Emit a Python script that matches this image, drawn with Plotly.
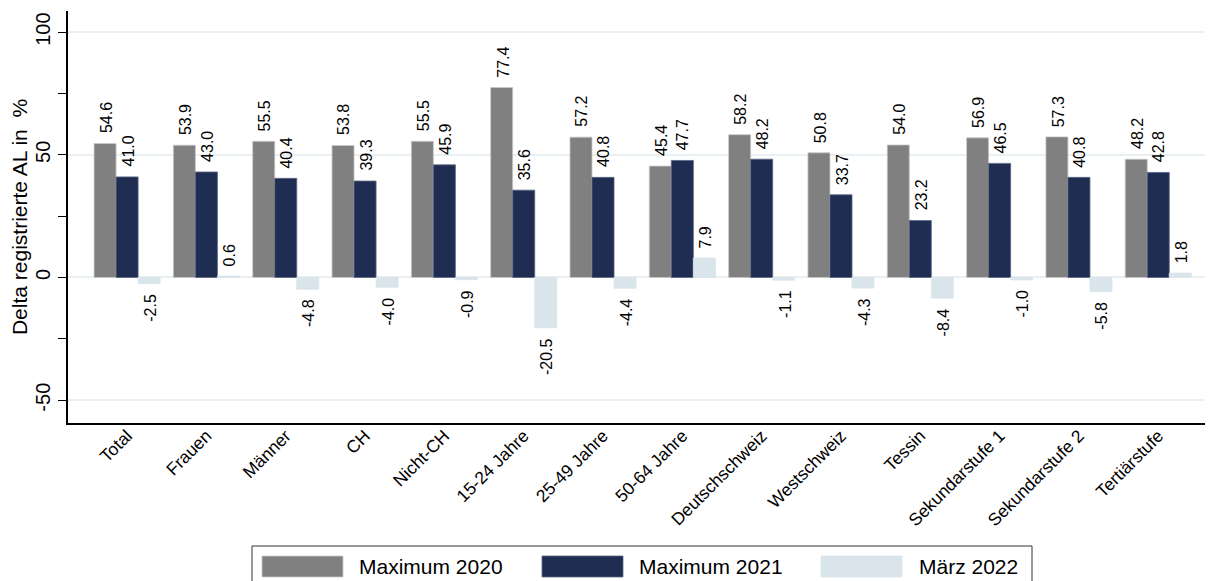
import plotly.graph_objects as go

categories = ["Total", "Frauen", "Männer", "CH", "Nicht-CH", "15-24 Jahre", "25-49 Jahre",
              "50-64 Jahre", "Deutschschweiz", "Westschweiz", "Tessin", "Sekundarstufe 1",
              "Sekundarstufe 2", "Tertiärstufe"]
max_2020 = [54.6, 53.9, 55.5, 53.8, 55.5, 77.4, 57.2, 45.4, 58.2, 50.8, 54.0, 56.9, 57.3, 48.2]
max_2021 = [41.0, 43.0, 40.4, 39.3, 45.9, 35.6, 40.8, 47.7, 48.2, 33.7, 23.2, 46.5, 40.8, 42.8]
maerz_2022 = [-2.5, 0.6, -4.8, -4.0, -0.9, -20.5, -4.4, 7.9, -1.1, -4.3, -8.4, -1.0, -5.8, 1.8]

series_names = ["Maximum 2020", "Maximum 2021", "März 2022"]
series_values = [max_2020, max_2021, maerz_2022]
colors = ["#808080", "#1f2d53", "#d9e5eb"]
edge_colors = ["#c8c8c8", "#5a6580", "#d9e5eb"]

FONT = "Liberation Sans, Arial, sans-serif"
PAGE_OFF = 8                      # default body margin of the html page
W, H = 1213 - PAGE_OFF, 581 - PAGE_OFF
ML, MR, MT, MB = 60, 0, 3, 158
PLOT_W = W - ML - MR
PLOT_H = H - MT - MB

def px_x(p):   # page pixel -> paper coordinate
    return (p - PAGE_OFF - ML) / PLOT_W

def px_y(p):
    return (PAGE_OFF + MT + PLOT_H - p) / PLOT_H

group_width = 1 - 0.167
bar_w = group_width / len(series_names)

fig = go.Figure()
xidx = list(range(len(categories)))
annotations = []
for k, (name, vals, col, ec) in enumerate(zip(series_names, series_values, colors, edge_colors)):
    off = -group_width / 2 + k * bar_w
    fig.add_trace(go.Bar(
        x=xidx, y=vals, name=name, width=bar_w, offset=off,
        marker=dict(color=col, line=dict(color=ec, width=0.8)),
        showlegend=False,
    ))
    for i, v in zip(xidx, vals):
        annotations.append(dict(
            xref="x", yref="y", x=i + off + bar_w / 2, y=v,
            text=f"{v:.1f}", textangle=-90, showarrow=False,
            xanchor="center", yanchor="bottom" if v >= 0 else "top",
            yshift=8 if v >= 0 else -8, xshift=1,
            font=dict(family=FONT, size=16, color="black"),
        ))

# legend drawn in the reference's boxed style
shapes = [dict(type="rect", xref="paper", yref="paper",
               x0=px_x(252), x1=px_x(1032), y0=px_y(600), y1=px_y(546),
               line=dict(color="#333333", width=1), fillcolor="white", layer="below")]
sw_x = [262, 542, 821]
tx_x = [357, 637, 917]
for i, (name, col) in enumerate(zip(series_names, colors)):
    shapes.append(dict(type="rect", xref="paper", yref="paper",
                       x0=px_x(sw_x[i]), x1=px_x(sw_x[i] + 81),
                       y0=px_y(577), y1=px_y(556),
                       line=dict(color=edge_colors[i], width=0.8), fillcolor=col))
    annotations.append(dict(xref="paper", yref="paper", x=px_x(tx_x[i]), y=px_y(566.5),
                            text=name, showarrow=False, xanchor="left", yanchor="middle",
                            font=dict(family=FONT, size=21, color="black")))

fig.update_layout(
    width=W, height=H,
    margin=dict(l=ML, r=MR, t=MT, b=MB, autoexpand=False),
    plot_bgcolor="white", paper_bgcolor="white",
    barmode="group", bargap=0.167, bargroupgap=0,
    shapes=shapes, annotations=annotations,
    font=dict(family=FONT, color="black"),
)
fig.update_xaxes(
    range=[-0.745, 13.69], tickmode="array", tickvals=xidx, ticktext=categories,
    tickangle=-45, tickfont=dict(family=FONT, size=17.5, color="black"),
    showline=True, linecolor="black", linewidth=1.5, ticks="", showgrid=False,
    zeroline=False,
)
try:
    fig.update_xaxes(ticklabelstandoff=-6)
except Exception:
    pass
fig.update_yaxes(
    range=[-59.3, 108.6], tickmode="array", tickvals=[-50, 0, 50, 100],
    ticktext=["-50", "0", "50", "100"], tickangle=-90,
    tickfont=dict(family=FONT, size=20, color="black"),
    ticks="outside", ticklen=8, tickwidth=1.2, tickcolor="black",
    minor=dict(tickmode="array", tickvals=[-25, 25, 75], ticks="outside", ticklen=8,
               tickwidth=1.2, tickcolor="black", showgrid=False),
    showline=True, linecolor="black", linewidth=1.5,
    showgrid=True, gridcolor="#e9f0f3", gridwidth=1.8,
    zeroline=True, zerolinecolor="#e9f0f3", zerolinewidth=1.8,
    title=dict(text="Delta registrierte AL in\u00a0 %", standoff=0,
               font=dict(family=FONT, size=21, color="black")),
)

fig.write_html("out.html")
